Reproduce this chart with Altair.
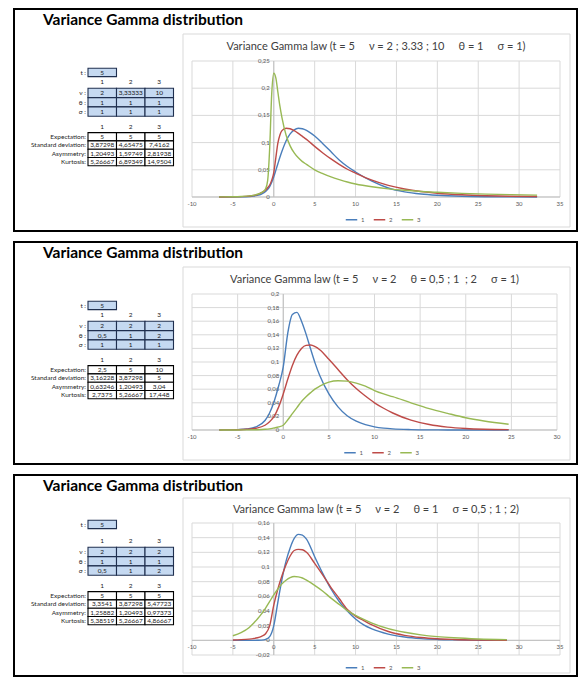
import altair as alt
import pandas as pd

FONT = "Lato"
SERIES = ["1", "2", "3"]
COLORS = ["#4a7ebb", "#be4b48", "#98b954"]
GRID = "#d9d9d9"
AXIS_LINE = "#bfbfbf"
TICK_TXT = "#595959"

# ---------------- data ----------------
MAIN_TITLE = "Variance Gamma distribution"
CHART_TITLES = [
    "Variance Gamma law (t = 5     ν = 2 ; 3.33 ; 10     θ = 1     σ = 1)",
    "Variance Gamma law (t = 5     ν = 2     θ = 0,5 ; 1  ; 2     σ = 1)",
    "Variance Gamma law (t = 5     ν = 2     θ = 1     σ = 0,5 ; 1 ; 2)",
]

T_VALUES = ["5", "5", "5"]
PARAM_NAMES = ["ν :", "θ :", "σ :"]
STAT_NAMES = ["Expectation:", "Standard deviation:", "Asymmetry:", "Kurtosis:"]

NU = [["2", "3,33333", "10"], ["2", "2", "2"], ["2", "2", "2"]]
THETA = [["1", "1", "1"], ["0,5", "1", "2"], ["1", "1", "1"]]
SIGMA = [["1", "1", "1"], ["1", "1", "1"], ["0,5", "1", "2"]]
EXPECT = [["5", "5", "5"], ["2,5", "5", "10"], ["5", "5", "5"]]
STDEV = [["3,87298", "4,65475", "7,4162"], ["3,16228", "3,87298", "5"], ["3,3541", "3,87298", "5,47723"]]
ASYM = [["1,20493", "1,59749", "2,81938"], ["0,63246", "1,20493", "3,04"], ["1,25882", "1,20493", "0,97373"]]
KURT = [["5,26667", "6,89349", "14,9504"], ["2,7375", "5,26667", "17,448"], ["5,38519", "5,26667", "4,86667"]]

X_DOMAINS = [[-10, 35], [-10, 30], [-10, 35]]
Y_DOMAINS = [[0, 0.25], [0, 0.2], [-0.02, 0.16]]
X_TICKS = [
    [-10, -5, 0, 5, 10, 15, 20, 25, 30, 35],
    [-10, -5, 0, 5, 10, 15, 20, 25, 30],
    [-10, -5, 0, 5, 10, 15, 20, 25, 30, 35],
]
Y_TICKS = [
    [0, 0.05, 0.1, 0.15, 0.2, 0.25],
    [0, 0.02, 0.04, 0.06, 0.08, 0.1, 0.12, 0.14, 0.16, 0.18, 0.2],
    [-0.02, 0, 0.02, 0.04, 0.06, 0.08, 0.1, 0.12, 0.14, 0.16],
]

# panel 1 : nu = 2 ; 3.33 ; 10
P1_X = [-6.7, -5, -4, -3, -2.5, -2, -1.5, -1, -0.75, -0.5, -0.25, 0, 0.25, 0.5, 0.75, 1, 1.5, 2, 2.5, 3,
        3.5, 4, 5, 6, 7, 8, 9, 10, 12, 14, 16, 18, 20, 23, 26, 29, 32.2]
P1_Y1 = [0.0, 0.0001, 0.0003, 0.0009, 0.0016, 0.003, 0.0055, 0.01, 0.014, 0.019, 0.027, 0.037, 0.049, 0.061,
         0.073, 0.084, 0.103, 0.116, 0.1235, 0.1265, 0.1255, 0.1225, 0.112, 0.098, 0.083, 0.068, 0.056, 0.046,
         0.029, 0.0165, 0.0095, 0.0055, 0.0032, 0.0013, 0.0005, 0.0002, 0.0001]
P1_Y2 = [0.0001, 0.0003, 0.0007, 0.0017, 0.0027, 0.0045, 0.008, 0.013, 0.017, 0.022, 0.031, 0.045, 0.072, 0.099,
         0.114, 0.122, 0.1265, 0.1255, 0.122, 0.117, 0.1115, 0.106, 0.093, 0.081, 0.07, 0.06, 0.051, 0.044,
         0.031, 0.0215, 0.0148, 0.0102, 0.007, 0.004, 0.0023, 0.0013, 0.0008]
P1_Y3 = [0.0002, 0.0005, 0.001, 0.002, 0.003, 0.005, 0.008, 0.015, 0.03, 0.09, 0.19, 0.2275, 0.219, 0.193,
         0.167, 0.146, 0.114, 0.094, 0.081, 0.072, 0.065, 0.06, 0.05, 0.043, 0.037, 0.032, 0.0275, 0.024,
         0.0188, 0.015, 0.0123, 0.0102, 0.0086, 0.0067, 0.0053, 0.0043, 0.0035]

# panel 2 : theta = 0,5 ; 1 ; 2
P2_X = [-7, -6, -5, -4, -3, -2, -1.5, -1, -0.5, 0, 0.5, 1, 1.5, 2, 2.5, 3, 3.5, 4, 5, 6, 7, 8, 9, 10, 11, 12,
        14, 16, 18, 20, 22, 24.7]
P2_Y1 = [0.0001, 0.0002, 0.0006, 0.0015, 0.0045, 0.014, 0.025, 0.042, 0.065, 0.093, 0.143, 0.17, 0.173, 0.16,
         0.141, 0.119, 0.098, 0.08, 0.053, 0.034, 0.021, 0.013, 0.0078, 0.0046, 0.0027, 0.0016, 0.0006, 0.0002,
         0.0001, 0.0, 0.0, 0.0]
P2_Y2 = [0.0001, 0.0002, 0.0004, 0.001, 0.0025, 0.007, 0.012, 0.02, 0.034, 0.053, 0.075, 0.095, 0.11, 0.12,
         0.1245, 0.125, 0.1225, 0.118, 0.104, 0.089, 0.074, 0.061, 0.05, 0.04, 0.032, 0.025, 0.0145, 0.008,
         0.0043, 0.0023, 0.0012, 0.0006]
P2_Y3 = [0.0, 0.0001, 0.0001, 0.0002, 0.0004, 0.001, 0.0017, 0.003, 0.0045, 0.007, 0.015, 0.024, 0.033, 0.042,
         0.049, 0.055, 0.0605, 0.0645, 0.0705, 0.0725, 0.0718, 0.069, 0.0645, 0.058, 0.053, 0.049, 0.04, 0.0315,
         0.0245, 0.018, 0.0133, 0.0085]

# panel 3 : sigma = 0,5 ; 1 ; 2
P3_X = [-5, -4, -3, -2.5, -2, -1.5, -1, -0.5, 0, 0.5, 1, 1.5, 2, 2.5, 3, 3.5, 4, 5, 6, 7, 8, 9, 10, 11, 12,
        14, 16, 18, 20, 22, 25, 28.5]
P3_Y1 = [0.0, 0.0, 0.0, 0.0, 0.0001, 0.0003, 0.0012, 0.005, 0.02, 0.052, 0.083, 0.108, 0.126, 0.139, 0.1445,
         0.1435, 0.138, 0.114, 0.091, 0.07, 0.053, 0.04, 0.029, 0.021, 0.0155, 0.0085, 0.0045, 0.0023, 0.0012,
         0.0006, 0.0002, 0.0001]
P3_Y2 = [0.0005, 0.0009, 0.0017, 0.0024, 0.0035, 0.0055, 0.009, 0.02, 0.048, 0.07, 0.088, 0.103, 0.115, 0.1225,
         0.124, 0.1235, 0.12, 0.105, 0.089, 0.072, 0.057, 0.042, 0.033, 0.027, 0.021, 0.012, 0.0068, 0.0038,
         0.0021, 0.0012, 0.0005, 0.0002]
P3_Y3 = [0.0063, 0.0105, 0.0175, 0.023, 0.029, 0.036, 0.044, 0.053, 0.062, 0.07, 0.077, 0.082, 0.0855, 0.087,
         0.0865, 0.085, 0.082, 0.075, 0.067, 0.0575, 0.049, 0.0405, 0.034, 0.0285, 0.0235, 0.016, 0.011, 0.0075,
         0.0051, 0.0035, 0.0019, 0.0009]

CURVES = [
    (P1_X, [P1_Y1, P1_Y2, P1_Y3]),
    (P2_X, [P2_Y1, P2_Y2, P2_Y3]),
    (P3_X, [P3_Y1, P3_Y2, P3_Y3]),
]

# ---------------- layout (pixels relative to each plot area) ----------------
WIDTHS = [368, 365, 368]
HEIGHTS = [136, 136, 132]
LAYOUT = [
    dict(top=-52, bottom=34, box_top=-27, box_bottom=30, title=-36, ctitle=-11, legend=16, shift=0, tshift=0),
    dict(top=-52, bottom=34, box_top=-27, box_bottom=30, title=-36, ctitle=-11, legend=16, shift=0, tshift=0),
    dict(top=-48, bottom=21, box_top=-25, box_bottom=18, title=-32, ctitle=-10, legend=6, shift=-3, tshift=-7),
]
LEFT, RIGHT = -178, 385
BOX_L, BOX_R = -9, 378
COL_EDGES = [-104, -75.5, -47, -18.5]
LABEL_X = -106
BLUE_FILL = "#c5d9f1"


def fmt(v):
    return f"{v:g}".replace(".", ",")


def table_data(i, L):
    s = L["shift"]
    cells, centred, labels = [], [], []
    ctr = [(COL_EDGES[c] + COL_EDGES[c + 1]) / 2 for c in range(3)]
    ty = 7.3 + s + L["tshift"]
    cells.append(dict(x1=COL_EDGES[0], x2=COL_EDGES[1], y1=ty, y2=ty + 8.3, fill=BLUE_FILL, stroke="#1f2f4f"))
    centred.append(dict(x=ctr[0], y=ty + 4.4, t=T_VALUES[i]))
    labels.append(dict(x=LABEL_X, y=ty + 4.4, t="t :"))
    for c in range(3):
        centred.append(dict(x=ctr[c], y=21.3 + s, t=SERIES[c]))
    pvals = [NU[i], THETA[i], SIGMA[i]]
    for r in range(3):
        y0 = 27.3 + s + r * 9.3
        for c in range(3):
            cells.append(dict(x1=COL_EDGES[c], x2=COL_EDGES[c + 1], y1=y0, y2=y0 + 9.3,
                              fill=BLUE_FILL, stroke="#1f2f4f"))
            centred.append(dict(x=ctr[c], y=y0 + 4.9, t=pvals[r][c]))
        labels.append(dict(x=LABEL_X, y=y0 + 4.9, t=PARAM_NAMES[r]))
    for c in range(3):
        centred.append(dict(x=ctr[c], y=66.3 + s, t=SERIES[c]))
    svals = [EXPECT[i], STDEV[i], ASYM[i], KURT[i]]
    for r in range(4):
        y0 = 71.6 + s + r * 8.3
        for c in range(3):
            cells.append(dict(x1=COL_EDGES[c], x2=COL_EDGES[c + 1], y1=y0, y2=y0 + 8.3,
                              fill="white", stroke="black"))
            centred.append(dict(x=ctr[c], y=y0 + 4.4, t=svals[r][c]))
        labels.append(dict(x=LABEL_X, y=y0 + 4.4, t=STAT_NAMES[r]))
    return pd.DataFrame(cells), pd.DataFrame(centred), pd.DataFrame(labels)


def curve_df(i):
    xs, ys = CURVES[i]
    rows = []
    for s, ylist in zip(SERIES, ys):
        for x, y in zip(xs, ylist):
            rows.append({"x": x, "y": y, "s": s})
    return pd.DataFrame(rows)


def panel(i):
    W, H, L = WIDTHS[i], HEIGHTS[i], LAYOUT[i]
    xd, yd = X_DOMAINS[i], Y_DOMAINS[i]
    xs = alt.Scale(domain=xd, nice=False, zero=False)
    ys = alt.Scale(domain=yd, nice=False, zero=False)
    one = pd.DataFrame({"k": [0]})

    border = alt.Chart(one).mark_rect(fill="white", stroke="black", strokeWidth=2).encode(
        x=alt.value(LEFT), x2=alt.value(RIGHT), y=alt.value(L["top"]), y2=alt.value(H + L["bottom"]))
    box = alt.Chart(one).mark_rect(fill="white", stroke=GRID, strokeWidth=1).encode(
        x=alt.value(BOX_L), x2=alt.value(BOX_R), y=alt.value(L["box_top"]), y2=alt.value(H + L["box_bottom"]))
    title = alt.Chart(one).mark_text(align="left", baseline="alphabetic", fontSize=15.5,
                                     fontWeight="bold", color="black").encode(
        x=alt.value(-149), y=alt.value(L["title"]), text=alt.value(MAIN_TITLE))
    ctitle = alt.Chart(one).mark_text(align="center", baseline="alphabetic", fontSize=11,
                                      color="#404040").encode(
        x=alt.value(W / 2), y=alt.value(L["ctitle"]),
        text=alt.value(CHART_TITLES[i].replace(" ", "\u00a0")))

    cells, centred, labels = table_data(i, L)
    cell_layer = alt.Chart(cells).mark_rect(strokeWidth=1.1).encode(
        x=alt.X("x1:Q", scale=None, axis=None), x2="x2:Q",
        y=alt.Y("y1:Q", scale=None, axis=None), y2="y2:Q",
        fill=alt.Fill("fill:N", scale=None, legend=None),
        stroke=alt.Stroke("stroke:N", scale=None, legend=None))
    ctext = alt.Chart(centred).mark_text(align="center", baseline="middle", fontSize=6.5,
                                         color="#1a1a1a").encode(
        x=alt.X("x:Q", scale=None, axis=None), y=alt.Y("y:Q", scale=None, axis=None), text="t:N")
    ltext = alt.Chart(labels).mark_text(align="right", baseline="middle", fontSize=6.5,
                                        color="#262626").encode(
        x=alt.X("x:Q", scale=None, axis=None), y=alt.Y("y:Q", scale=None, axis=None), text="t:N")

    vg = pd.DataFrame({"v": X_TICKS[i], "lo": yd[0], "hi": yd[1]})
    vgrid = alt.Chart(vg).mark_rule(color=GRID, strokeWidth=1).encode(
        x=alt.X("v:Q", scale=xs, axis=None), y=alt.Y("lo:Q", scale=ys, axis=None), y2="hi:Q")
    hg = pd.DataFrame({"v": Y_TICKS[i], "lo": xd[0], "hi": xd[1]})
    hgrid = alt.Chart(hg).mark_rule(color=GRID, strokeWidth=1).encode(
        y=alt.Y("v:Q", scale=ys, axis=None), x=alt.X("lo:Q", scale=xs, axis=None), x2="hi:Q")

    ax = pd.DataFrame({"x0": [0], "y0": [0], "xlo": [xd[0]], "xhi": [xd[1]], "ylo": [yd[0]], "yhi": [yd[1]]})
    yaxis = alt.Chart(ax).mark_rule(color=AXIS_LINE, strokeWidth=1).encode(
        x=alt.X("x0:Q", scale=xs, axis=None), y=alt.Y("ylo:Q", scale=ys, axis=None), y2="yhi:Q")
    xaxis = alt.Chart(ax).mark_rule(color=AXIS_LINE, strokeWidth=1).encode(
        y=alt.Y("y0:Q", scale=ys, axis=None), x=alt.X("xlo:Q", scale=xs, axis=None), x2="xhi:Q")

    xl = pd.DataFrame({"v": X_TICKS[i], "lab": [fmt(v) for v in X_TICKS[i]], "y0": 0})
    xlab = alt.Chart(xl).mark_text(align="center", baseline="middle", dy=7, fontSize=6,
                                   color=TICK_TXT).encode(
        x=alt.X("v:Q", scale=xs, axis=None), y=alt.Y("y0:Q", scale=ys, axis=None), text="lab:N")
    yl = pd.DataFrame({"v": Y_TICKS[i], "lab": [fmt(v) for v in Y_TICKS[i]], "x0": 0})
    ylab = alt.Chart(yl).mark_text(align="right", baseline="middle", dx=-4, fontSize=6,
                                   color=TICK_TXT).encode(
        x=alt.X("x0:Q", scale=xs, axis=None), y=alt.Y("v:Q", scale=ys, axis=None), text="lab:N")

    lines = alt.Chart(curve_df(i)).mark_line(interpolate="monotone", strokeWidth=1.4).encode(
        x=alt.X("x:Q", scale=xs, axis=None),
        y=alt.Y("y:Q", scale=ys, axis=None),
        color=alt.Color("s:N", scale=alt.Scale(domain=SERIES, range=COLORS),
                        legend=alt.Legend(orient="none", legendX=W / 2 - 31, legendY=H + L["legend"],
                                          direction="horizontal", title=None, symbolType="stroke",
                                          symbolSize=132, symbolStrokeWidth=1.5, labelFontSize=6,
                                          labelColor=TICK_TXT, columnPadding=5, labelOffset=3,
                                          padding=0)),
    )

    return alt.layer(border, box, title, ctitle, cell_layer, ctext, ltext,
                     vgrid, hgrid, yaxis, xaxis, xlab, ylab, lines).properties(width=W, height=H)


chart = alt.vconcat(panel(0), panel(1), panel(2), spacing=9).resolve_scale(
    color="independent"
).resolve_legend(color="independent").properties(
    padding={"left": 5, "top": 0, "right": 0, "bottom": 0}
).configure(font=FONT).configure_view(stroke=None)

chart.save("out.html", embed_options={"renderer": "svg", "actions": False})
